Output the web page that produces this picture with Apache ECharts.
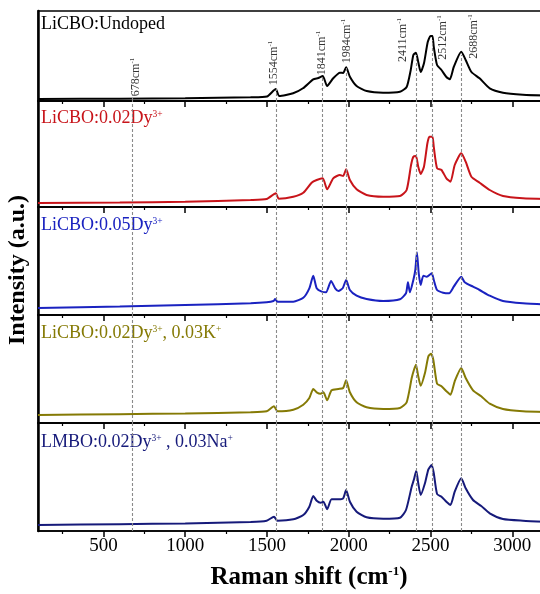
<!DOCTYPE html>
<html><head><meta charset="utf-8">
<script src="https://cdn.jsdelivr.net/npm/echarts@6.0.0/dist/echarts.min.js"></script>
<style>html,body{margin:0;padding:0;overflow:hidden;background:#fff}#c{width:560px;height:594px}</style>
</head><body><div id="c"></div>
<script>
// ---- data ----
const peakPositions = [678, 1554, 1841, 1984, 2411, 2512, 2688];
const peakLabels = ['678', '1554', '1841', '1984', '2411', '2512', '2688'];
const peakLabelX = [699, 1543, 1836, 1987, 2331, 2574, 2765];
const peakLabelY = [24, 38, 48, 60, 61, 63.5, 64.5];
const peakDashTop = [6, 13, 24, 33, 46, 61, 46];
const majorTicks = [500, 1000, 1500, 2000, 2500, 3000];
const minorTicks = [250, 750, 1250, 1750, 2250, 2750];

const undopedX = [100, 600, 1000, 1400, 1500, 1554, 1575, 1660, 1720, 1783, 1814, 1841, 1868, 1905, 1946, 1966, 1984, 2007, 2048, 2110, 2210, 2313, 2354, 2379, 2395, 2411, 2425, 2440, 2460, 2483, 2500, 2512, 2520, 2540, 2567, 2597, 2618, 2642, 2688, 2715, 2750, 2800, 2862, 2943, 3065, 3200];
const undopedY = [2, 2.3, 2.8, 3.7, 4.5, 12, 5, 7.7, 12.7, 21.7, 23, 25, 15, 22.7, 28.3, 28, 33.7, 24.3, 15, 10, 8.3, 9.3, 14, 31, 46, 48.3, 39, 29, 37.7, 59, 65, 65, 54, 36, 31, 24, 21.7, 34, 49.3, 41, 29, 22.7, 12.7, 8.3, 6.3, 5.5];

const dy002X = [100, 600, 1000, 1400, 1498, 1554, 1572, 1661, 1722, 1773, 1804, 1841, 1868, 1905, 1946, 1966, 1984, 2007, 2048, 2109, 2211, 2313, 2354, 2381, 2395, 2411, 2425, 2440, 2460, 2481, 2493, 2512, 2520, 2540, 2567, 2597, 2622, 2648, 2688, 2715, 2750, 2800, 2862, 2943, 3065, 3200];
const dy002Y = [4, 4.5, 5.2, 7, 8, 13.7, 8.3, 10.3, 14.3, 24.3, 27, 28.7, 17.7, 28.7, 32, 31, 37.7, 27, 17.7, 12, 10.3, 11, 17, 42, 50.3, 51, 40.3, 33, 40.3, 63.7, 70.3, 70.3, 60, 38.7, 37, 28.7, 25.3, 42, 53.7, 45.3, 30.3, 24.3, 17, 11, 8.7, 8];

const dy005X = [100, 600, 1000, 1400, 1498, 1540, 1550, 1564, 1661, 1722, 1759, 1783, 1804, 1835, 1861, 1892, 1917, 1937, 1963, 1984, 2007, 2048, 2109, 2211, 2313, 2350, 2362, 2374, 2395, 2407, 2417, 2428, 2440, 2456, 2477, 2507, 2520, 2540, 2577, 2614, 2642, 2688, 2709, 2760, 2800, 2862, 2943, 3065, 3200];
const dy005Y = [7, 8.5, 10, 11.7, 12.7, 14, 16, 13.3, 13.3, 17.3, 26.7, 39.3, 26.7, 23.3, 22.7, 34, 26.7, 24, 26.7, 35, 25, 19.3, 16, 14, 15.7, 21.7, 32.7, 22.7, 35, 45, 62.7, 41.7, 30, 39.3, 38.3, 41.7, 35, 25, 22.3, 21.7, 28.3, 38.3, 32.7, 28.3, 25, 19.3, 14, 11.7, 10.5];

const dyKX = [100, 600, 1000, 1400, 1498, 1543, 1564, 1661, 1722, 1759, 1783, 1804, 1828, 1845, 1868, 1895, 1937, 1966, 1984, 2007, 2048, 2109, 2211, 2313, 2354, 2385, 2399, 2411, 2425, 2440, 2466, 2487, 2503, 2517, 2540, 2567, 2597, 2622, 2648, 2688, 2715, 2760, 2810, 2862, 2943, 3065, 3200];
const dyKY = [8, 8.8, 9.5, 10.7, 11.7, 16.7, 11.7, 13.3, 18.3, 25, 34, 30.7, 29.3, 30.7, 22.7, 32.7, 34, 35, 42.7, 30.7, 20.7, 15.7, 14, 15, 20.7, 45, 53.3, 58.3, 46.7, 37.3, 50, 66.7, 69.3, 63.3, 39.3, 36.7, 31.7, 28.3, 41.7, 55, 45, 32.7, 26.7, 19.3, 14, 11.7, 11];

const dyNaX = [100, 600, 1000, 1400, 1498, 1543, 1564, 1661, 1722, 1759, 1783, 1804, 1828, 1845, 1868, 1895, 1937, 1966, 1984, 2007, 2048, 2109, 2211, 2313, 2350, 2385, 2399, 2413, 2425, 2440, 2466, 2487, 2507, 2520, 2540, 2567, 2597, 2622, 2648, 2688, 2715, 2760, 2810, 2862, 2943, 3065, 3200];
const dyNaY = [6, 6.8, 7.6, 9, 10.3, 14.3, 10.3, 11.7, 16, 24.3, 35, 30.3, 28.3, 29.3, 21.7, 31.7, 31.7, 32.7, 41, 29.3, 19.3, 13.7, 12.3, 13.3, 21, 44.3, 51.7, 60.3, 47.7, 36, 47.7, 61.7, 66, 57.7, 37, 34.3, 29.3, 26, 39.3, 52.7, 42.7, 31, 25, 17.7, 12, 10.3, 9.3];

const sampleNames = ['LiCBO:Undoped', 'LiCBO:0.02Dy{s|3+}', 'LiCBO:0.05Dy{s|3+}', 'LiCBO:0.02Dy{s|3+}, 0.03K{s|+}', 'LMBO:0.02Dy{s|3+} , 0.03Na{s|+}'];
const sampleX = [undopedX, dy002X, dy005X, dyKX, dyNaX];
const sampleY = [undopedY, dy002Y, dy005Y, dyKY, dyNaY];

// ---- layout / style ----
const colors = ['#000000', '#c8141a', '#1a22c0', '#857a05', '#161a7a'];
const panelTop = [11, 101, 207, 315, 423];
const panelH = [90, 106, 108, 108, 108];
const labelOffset = [4, 8, 9, 9, 10];
const gLeft = 38, gWidth = 507;
const serif = '"Liberation Serif", "Times New Roman", serif';

const grids = [], xAxes = [], yAxes = [], series = [], graphics = [];
for (let i = 0; i < 5; i++) {
  grids.push({left: gLeft, top: panelTop[i], width: gWidth, height: panelH[i], show: true, borderColor: '#000', borderWidth: 1.3, backgroundColor: 'transparent'});
  const last = i === 4;
  xAxes.push({type: 'value', gridIndex: i, min: 100, max: 3200, position: 'bottom',
    axisLine: {show: true, onZero: false, lineStyle: {color: '#000', width: 1.5}},
    axisTick: {show: true, inside: false, length: 6, customValues: majorTicks, lineStyle: {color: '#000', width: 1.5}},
    axisLabel: {show: last, customValues: majorTicks, color: '#000', fontFamily: serif, fontSize: 19, margin: 6, formatter: v => String(v)},
    splitLine: {show: false}});
  xAxes.push({type: 'value', gridIndex: i, min: 100, max: 3200, position: 'bottom',
    axisLine: {show: false},
    axisTick: {show: true, inside: false, length: 3, customValues: minorTicks, lineStyle: {color: '#000', width: 1.2}},
    axisLabel: {show: false}, splitLine: {show: false}});
  yAxes.push({type: 'value', gridIndex: i, min: 0, max: panelH[i],
    axisLine: {show: true, onZero: false, lineStyle: {color: '#000', width: 2.5}},
    axisTick: {show: false}, axisLabel: {show: false}, splitLine: {show: false}});

  const data = sampleX[i].map((x, k) => [x, sampleY[i][k]]);
  let mlData;
  if (i === 0) {
    mlData = peakPositions.map((p, k) => [{coord: [p, 0]}, {coord: [p, peakDashTop[k]]}]);
  } else {
    mlData = peakPositions.map(p => ({xAxis: p}));
  }
  series.push({type: 'line', xAxisIndex: 2 * i, yAxisIndex: i, data: data, showSymbol: false, smooth: 0.2,
    lineStyle: {color: colors[i], width: 2}, itemStyle: {color: colors[i]}, animation: false, z: 2,
    markLine: {silent: true, symbol: ['none', 'none'], label: {show: false}, animation: false,
      lineStyle: {color: '#8a8a8a', type: [3, 2], width: 1.1}, data: mlData}});

  graphics.push({type: 'text', left: gLeft + 3, top: panelTop[i] + labelOffset[i], silent: true,
    style: {text: sampleNames[i], fill: colors[i], font: '18px ' + serif,
      rich: {s: {fontSize: 9.5, fill: colors[i], fontFamily: serif, verticalAlign: 'top', padding: [0, 0, 8, 0]}}}});
}

// peak labels in top panel
series.push({type: 'scatter', xAxisIndex: 0, yAxisIndex: 0, symbolSize: 0, animation: false, silent: true,
  data: peakLabelX.map((x, k) => ({value: [x, peakLabelY[k]], name: peakLabels[k]})),
  label: {show: true, position: 'inside', rotate: 90, color: '#000',
    formatter: p => '{a|' + p.name + 'cm}{b|-1}',
    rich: {a: {fontSize: 12, fontFamily: serif, color: '#000'}, b: {fontSize: 7, fontFamily: serif, color: '#000', verticalAlign: 'top', padding: [0, 0, 7, 0]}}}});

graphics.push({type: 'text', x: 309, y: 578, silent: true,
  style: {text: 'Raman shift (cm{s|-1})', fill: '#000', font: 'bold 25px ' + serif, align: 'center', verticalAlign: 'middle',
    rich: {s: {fontSize: 13, fontWeight: 'bold', fontFamily: serif, fill: '#000', verticalAlign: 'top', padding: [0, 0, 13, 0]}}}});
graphics.push({type: 'text', x: 18, y: 270, rotation: Math.PI / 2, silent: true,
  style: {text: 'Intensity (a.u.)', fill: '#000', font: 'bold 24px ' + serif, align: 'center', verticalAlign: 'middle'}});

const chart = echarts.init(document.getElementById('c'), null, {renderer: 'canvas'});
chart.setOption({animation: false, backgroundColor: '#fff', grid: grids, xAxis: xAxes, yAxis: yAxes, series: series, graphic: graphics});
</script></body></html>
